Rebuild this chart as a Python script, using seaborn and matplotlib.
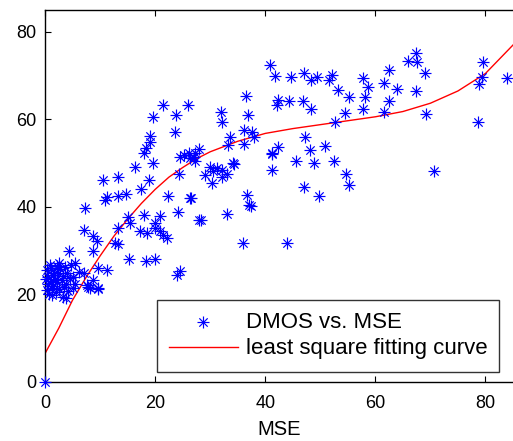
import matplotlib
matplotlib.use("Agg")
import matplotlib.pyplot as plt
from matplotlib.legend_handler import HandlerTuple
import seaborn as sns
import numpy as np

plt.rcParams['font.family'] = ['Liberation Sans', 'DejaVu Sans']

# scatter data: MSE (x) and DMOS (y)
mse = [
    0.0,
    # dense low-MSE cluster
    0.3, 0.5, 0.6, 0.4, 0.8, 1.0, 1.1, 1.2, 1.4, 1.5, 1.6, 1.8, 2.0, 2.1, 2.2,
    2.4, 2.6, 2.8, 3.0, 3.2, 3.3, 3.5, 3.6, 3.8, 4.0, 4.2, 4.5, 4.8, 0.2, 0.9,
    1.3, 2.5, 3.9, 5.0, 5.5,
    # 4-12
    4.4, 5.5, 6.1, 7.0, 7.6, 8.8, 9.7, 8.2, 11.2, 5.1, 7.9, 9.7, 9.7, 8.8, 7.0,
    8.8, 9.4, 7.3, 10.6, 11.2, 10.9,
    # 12-24
    12.7, 13.2, 13.3, 13.2, 13.2, 14.7, 15.0, 15.3, 15.5, 16.4, 17.2, 17.4,
    18.0, 18.0, 18.4, 18.4, 18.5, 18.8, 19.1, 19.1, 19.7, 19.7, 20.0, 20.0,
    20.0, 20.9, 20.9, 21.5, 21.5, 22.1, 22.4, 23.6, 23.8, 23.9, 24.1, 24.4,
    24.5, 24.5,
    # 25-38
    25.2, 25.9, 26.1, 26.4, 26.4, 26.5, 27.0, 27.3, 27.9, 27.3, 27.9, 28.4,
    29.1, 30.0, 30.3, 30.6, 31.2, 32.0, 32.1, 32.2, 32.2, 33.0, 33.1, 33.3,
    33.6, 34.2, 34.4, 35.9, 36.1, 36.2, 36.5, 36.7, 36.9, 37.0, 37.4, 37.6,
    37.9,
    # 40-56
    40.9, 41.2, 41.2, 41.2, 41.8, 42.1, 42.3, 42.4, 43.9, 44.4, 44.7, 45.5,
    46.8, 47.1, 47.1, 47.3, 48.2, 48.4, 48.4, 48.8, 49.4, 49.7, 50.9, 51.5,
    52.1, 52.4, 52.7, 53.2, 54.4, 54.7, 55.3, 55.3,
    # 57-85
    57.7, 58.7, 58.1, 57.7, 61.5, 62.4, 62.4, 61.5, 63.9, 65.9, 67.4, 67.6,
    67.4, 69.0, 69.2, 70.6, 78.7, 78.9, 79.3, 79.5, 83.9,
]
dmos = [
    0.0,
    21.0, 22.5, 24.0, 25.5, 20.0, 23.0, 26.0, 21.5, 24.5, 22.0, 25.0, 23.5,
    20.5, 26.5, 22.8, 24.8, 21.2, 25.8, 23.2, 19.5, 24.2, 21.8, 26.2, 22.5,
    25.0, 20.8, 23.8, 26.8, 23.5, 26.8, 19.8, 27.2, 19.2, 24.0, 22.5,
    30.0, 27.1, 25.2, 24.8, 22.2, 23.3, 21.4, 21.4, 25.6, 21.4, 21.6, 26.0,
    21.2, 30.0, 34.7, 33.4, 32.3, 39.7, 46.2, 42.2, 41.6,
    31.7, 46.8, 31.5, 42.5, 35.1, 43.0, 37.8, 28.1, 36.3, 49.1, 34.6, 44.0,
    38.2, 52.3, 53.4, 27.7, 34.1, 46.2, 56.1, 54.9, 60.5, 50.0, 36.3, 35.1,
    28.1, 37.9, 34.4, 63.3, 33.6, 32.8, 42.6, 57.2, 61.0, 24.5, 38.9, 47.5,
    25.4, 51.5,
    51.9, 63.3, 52.3, 51.1, 42.0, 42.0, 51.5, 50.6, 53.2, 52.3, 37.0, 37.0,
    47.3, 49.2, 45.4, 48.1, 48.8, 61.6, 48.5, 59.5, 46.9, 47.5, 38.5, 54.2,
    55.9, 50.0, 49.8, 31.7, 54.4, 57.6, 65.4, 42.7, 60.9, 40.5, 40.2, 57.2,
    55.9,
    72.5, 52.1, 48.5, 52.3, 70.0, 63.3, 64.5, 53.6, 31.7, 64.1, 69.6, 50.4,
    64.1, 70.6, 44.6, 55.9, 53.0, 68.9, 62.3, 50.0, 69.8, 42.4, 54.0, 69.0,
    70.2, 50.4, 59.5, 66.7, 61.4, 47.5, 65.1, 45.0,
    69.4, 67.4, 65.1, 62.4, 68.3, 71.2, 64.1, 61.8, 67.0, 73.4, 75.1, 73.1,
    66.4, 70.6, 61.3, 48.3, 59.4, 68.1, 69.6, 73.1, 69.4,
]

# least-square fitting curve
curve_x = [0, 2.5, 5, 7.5, 10, 12.5, 15, 17.5, 20, 22.5, 25, 27.5, 30, 35,
           40, 45, 50, 55, 60, 65, 70, 75, 80, 85]
curve_y = [6.5, 12.3, 18.7, 24.0, 28.8, 33.3, 37.2, 40.8, 44.0, 46.8, 49.0,
           51.0, 52.6, 55.0, 56.8, 57.9, 58.8, 59.7, 60.6, 61.8, 63.7, 66.5,
           70.5, 77.0]

xticks = [0, 20, 40, 60, 80]
yticks = [0, 20, 40, 60, 80]

fig = plt.figure(figsize=(5.13, 4.41), dpi=100)
ax = fig.add_axes([45 / 513, 1 - 382 / 441, 468 / 513, 372 / 441])

# MATLAB-style asterisk: a long '+' with shorter diagonals
sns.scatterplot(x=mse, y=dmos, ax=ax, marker='+', s=85, color='blue',
                linewidth=0.85, zorder=3, clip_on=False, legend=False)
sns.scatterplot(x=mse, y=dmos, ax=ax, marker='x', s=36, color='blue',
                linewidth=0.85, zorder=3, clip_on=False, legend=False)
sns.lineplot(x=curve_x, y=curve_y, ax=ax, color='red', linewidth=1.0,
             zorder=2, legend=False)

h_plus = ax.scatter([], [], marker='+', s=85, color='blue', linewidths=0.85)
h_x = ax.scatter([], [], marker='x', s=36, color='blue', linewidths=0.85)
h_line, = ax.plot([], [], color='red', linewidth=1.0)

ax.set_xlim(0, 85)
ax.set_ylim(0, 85)
ax.set_xticks(xticks)
ax.set_yticks(yticks)
ax.tick_params(direction='in', length=4, width=0.8, labelsize=13,
               top=True, right=False, colors='black')
ax.tick_params(axis='x', pad=9)
ax.tick_params(axis='y', pad=6)
ax.spines['right'].set_visible(False)
for s in ['left', 'bottom', 'top']:
    ax.spines[s].set_linewidth(1.0)
ax.set_xlabel('MSE', fontsize=14.5, labelpad=6)
ax.set_ylabel('')

leg = ax.legend([(h_plus, h_x), h_line],
                ['DMOS vs. MSE', 'least square fitting curve'],
                handler_map={tuple: HandlerTuple(ndivide=1, pad=0)},
                loc='lower right', bbox_to_anchor=(0.971, 0.028),
                borderaxespad=0, fontsize=16, frameon=True, fancybox=False,
                edgecolor='black', handlelength=3.1, handletextpad=0.35,
                labelspacing=0.25, borderpad=0.55)
leg.get_frame().set_linewidth(1.0)

fig.savefig('out.png', dpi=100)
